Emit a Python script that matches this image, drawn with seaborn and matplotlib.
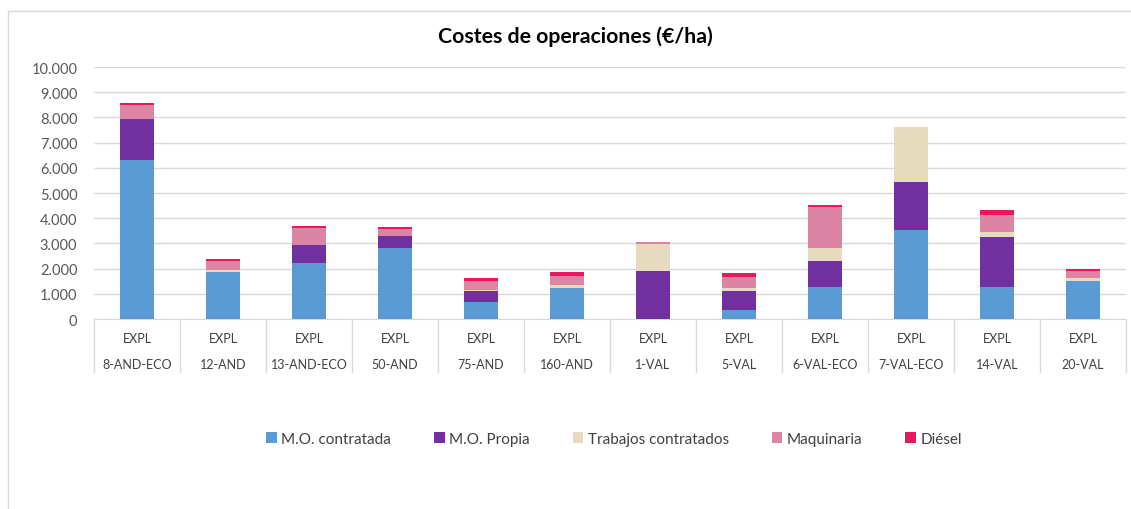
import numpy as np
import pandas as pd
import matplotlib
matplotlib.use("Agg")
import matplotlib.pyplot as plt
import seaborn as sns
from matplotlib.patches import Patch, Rectangle
from matplotlib.ticker import FuncFormatter, MultipleLocator
import matplotlib.transforms as mtransforms

# ----------------------------
# Data
# ----------------------------

fincas = ["8-AND-ECO", "12-AND", "13-AND-ECO", "50-AND", "75-AND", "160-AND",
          "1-VAL", "5-VAL", "6-VAL-ECO", "7-VAL-ECO", "14-VAL", "20-VAL"]
grupo = "EXPL"

mo_contratada = [6300, 1870, 2240, 2800, 690, 1230, 0, 360, 1270, 3520, 1270, 1510]
mo_propia = [1650, 0, 680, 490, 410, 0, 1900, 750, 1030, 1920, 1970, 0]
trabajos = [0, 60, 0, 0, 60, 110, 1080, 130, 520, 2180, 210, 130]
maquinaria = [530, 370, 700, 290, 350, 350, 60, 440, 1610, 0, 690, 280]
diesel = [90, 80, 90, 80, 120, 160, 0, 150, 90, 0, 190, 50]

series = ["M.O. contratada", "M.O. Propia", "Trabajos contratados", "Maquinaria", "Diésel"]
colores = ["#5B9BD5", "#7030A0", "#E6DBBE", "#DC84A4", "#E8185E"]

df = pd.DataFrame({
    "finca": fincas,
    "M.O. contratada": mo_contratada,
    "M.O. Propia": mo_propia,
    "Trabajos contratados": trabajos,
    "Maquinaria": maquinaria,
    "Diésel": diesel,
})

# ----------------------------
# Figure
# ----------------------------

sns.set_style("white")
plt.rcParams["font.family"] = ["Lato", "DejaVu Sans"]

fig = plt.figure(figsize=(11.31, 5.10), dpi=100)
ax = fig.add_axes([94 / 1131, 1 - 320 / 510, 1032 / 1131, 252 / 510])

# outer chart border
fig.patches.append(Rectangle((8 / 1131, -0.1), 1.2, 1 - 12 / 510 + 0.1,
                             transform=fig.transFigure, fill=False,
                             edgecolor="#D9D9D9", linewidth=1, zorder=0))

# stacked bars: draw cumulative totals from top to bottom
cum = df[series].cumsum(axis=1)
for name, color in reversed(list(zip(series, colores))):
    sns.barplot(x=df["finca"], y=cum[name], color=color, width=0.4,
                saturation=1, linewidth=0, ax=ax, zorder=3)

# ----------------------------
# Axes styling
# ----------------------------

ax.set_ylim(0, 10000)
ax.set_xlim(-0.5, len(fincas) - 0.5)
ax.yaxis.set_major_locator(MultipleLocator(1000))
ax.yaxis.set_major_formatter(FuncFormatter(lambda v, p: f"{int(v):,}".replace(",", ".")))
ax.grid(axis="y", color="#D9D9D9", linewidth=1, zorder=0)
ax.set_axisbelow(True)
for s in ["top", "right", "left"]:
    ax.spines[s].set_visible(False)
ax.spines["bottom"].set_color("#D9D9D9")
ax.tick_params(axis="y", length=0, labelsize=10.5, labelcolor="#595959", pad=12)
ax.set_xticks([])
ax.set_xlabel("")
ax.set_ylabel("")

# two-level category labels and separators
trans = mtransforms.blended_transform_factory(ax.transData, ax.transAxes)
for i, f in enumerate(fincas):
    ax.text(i, -0.075, grupo, transform=trans, ha="center", va="center",
            fontsize=9, color="#404040")
    ax.text(i, -0.178, f, transform=trans, ha="center", va="center",
            fontsize=9, color="#404040")
for i in range(len(fincas) + 1):
    ax.plot([i - 0.5, i - 0.5], [0, -0.21], transform=trans, color="#D9D9D9",
            linewidth=1, clip_on=False)

fig.text(575 / 1131, 1 - 37 / 510, "Costes de operaciones (€/ha)", ha="center",
         va="center", fontsize=15.3, fontweight="bold", color="#000000")

handles = [Patch(facecolor=c, edgecolor="none", label=n) for n, c in zip(series, colores)]
fig.legend(handles=handles, loc="center", bbox_to_anchor=(0.543, 1 - 440 / 510),
           ncol=5, frameon=False, fontsize=11, handlelength=0.7, handleheight=0.7,
           handletextpad=0.3, columnspacing=2.8, labelcolor="#404040")

plt.savefig("out.png", dpi=100)
